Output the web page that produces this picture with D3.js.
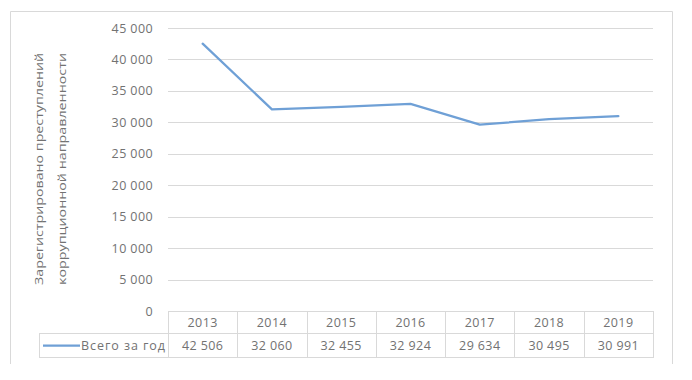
<!DOCTYPE html>
<html>
<head>
<meta charset="utf-8">
<script src="https://cdn.jsdelivr.net/npm/d3@7"></script>
<style>
  body { margin: 0; background: #fff; }
  svg text { font-family: "Open Sans", "DejaVu Sans", sans-serif; fill: #727272; }
</style>
</head>
<body>
<svg id="chart" width="692" height="380"></svg>
<script>
const years = ["2013", "2014", "2015", "2016", "2017", "2018", "2019"];
const totals = [42506, 32060, 32455, 32924, 29634, 30495, 30991];
const seriesName = "Всего за год";
const yTicks = [0, 5000, 10000, 15000, 20000, 25000, 30000, 35000, 40000, 45000];
const titleLines = ["Зарегистрировано преступлений", "коррупционной направленности"];

const svg = d3.select("#chart");
const fmt = v => d3.format(",")(v).replace(/,/g, " ");

const plotLeft = 168, plotRight = 653, plotTop = 28, plotBottom = 311;
const rowH1 = 22, rowH2 = 24, legendLeft = 39;

let x = d3.scaleBand().domain(years).range([plotLeft, plotRight]);
let y = d3.scaleLinear().domain([0, 45000]).range([plotBottom, plotTop]);

// chart frame (bottom edge cut off)
svg.append("path")
    .attr("d", "M10.5,364 V11.5 H672.5 V364")
    .attr("fill", "none")
    .attr("stroke", "#d9d9d9");

// gridlines
svg.append("g")
    .selectAll("line")
    .data(yTicks.filter(d => d > 0))
    .enter().append("line")
    .attr("x1", plotLeft).attr("x2", plotRight)
    .attr("y1", d => Math.round(y(d)) + 0.5)
    .attr("y2", d => Math.round(y(d)) + 0.5)
    .attr("stroke", "#d9d9d9");

// y axis labels
let yAxis = d3.axisLeft(y).tickValues(yTicks).tickFormat(fmt).tickSize(0).tickPadding(15);
let yg = svg.append("g").attr("transform", `translate(${plotLeft},0)`).call(yAxis);
yg.select(".domain").remove();
yg.attr("font-family", null).attr("font-size", null);
yg.selectAll("text").attr("font-size", "12.5px").attr("letter-spacing", "0.4px").attr("fill", null);

// axis title
let title = svg.append("g").attr("transform", "translate(39,169) rotate(-90)");
title.selectAll("text")
    .data(titleLines)
    .enter().append("text")
    .attr("x", 0)
    .attr("y", (d, i) => i * 23 + 4)
    .attr("text-anchor", "middle")
    .attr("font-size", "11.5px")
    .attr("textLength", 232)
    .attr("lengthAdjust", "spacingAndGlyphs")
    .text(d => d);

// data table
let tbl = svg.append("g").attr("fill", "none").attr("stroke", "#d9d9d9");
tbl.append("rect")
    .attr("x", plotLeft + 0.5).attr("y", plotBottom + 0.5)
    .attr("width", plotRight - plotLeft).attr("height", rowH1 + rowH2);
tbl.append("rect")
    .attr("x", legendLeft + 0.5).attr("y", plotBottom + rowH1 + 0.5)
    .attr("width", plotRight - legendLeft).attr("height", rowH2);
tbl.selectAll("line.col")
    .data(years.slice(1))
    .enter().append("line")
    .attr("class", "col")
    .attr("x1", d => Math.round(x(d)) + 0.5).attr("x2", d => Math.round(x(d)) + 0.5)
    .attr("y1", plotBottom).attr("y2", plotBottom + rowH1 + rowH2);

svg.append("g").selectAll("text")
    .data(years)
    .enter().append("text")
    .attr("x", d => x(d) + x.bandwidth() / 2)
    .attr("y", plotBottom + rowH1 / 2 + 4.5)
    .attr("text-anchor", "middle")
    .attr("font-size", "12.5px")
    .attr("letter-spacing", "0.4px")
    .text(d => d);

svg.append("g").selectAll("text")
    .data(totals)
    .enter().append("text")
    .attr("x", (d, i) => x(years[i]) + x.bandwidth() / 2)
    .attr("y", plotBottom + rowH1 + rowH2 / 2 + 4.5)
    .attr("text-anchor", "middle")
    .attr("font-size", "12.5px")
    .attr("letter-spacing", "0.4px")
    .text(d => fmt(d));

// legend key in table
svg.append("line")
    .attr("x1", 43).attr("x2", 80)
    .attr("y1", plotBottom + rowH1 + rowH2 / 2 + 0.5).attr("y2", plotBottom + rowH1 + rowH2 / 2 + 0.5)
    .attr("stroke", "#6fa0d6").attr("stroke-width", 2.25);
svg.append("text")
    .attr("x", 81)
    .attr("y", plotBottom + rowH1 + rowH2 / 2 + 4.5)
    .attr("font-size", "12.5px")
    .attr("textLength", 84)
    .attr("lengthAdjust", "spacing")
    .text(seriesName);

// series line
let line = d3.line()
    .x((d, i) => x(years[i]) + x.bandwidth() / 2)
    .y(d => y(d));
svg.append("path")
    .datum(totals)
    .attr("d", line)
    .attr("fill", "none")
    .attr("stroke", "#6fa0d6")
    .attr("stroke-width", 2.25)
    .attr("stroke-linejoin", "round")
    .attr("stroke-linecap", "round");
</script>
</body>
</html>
